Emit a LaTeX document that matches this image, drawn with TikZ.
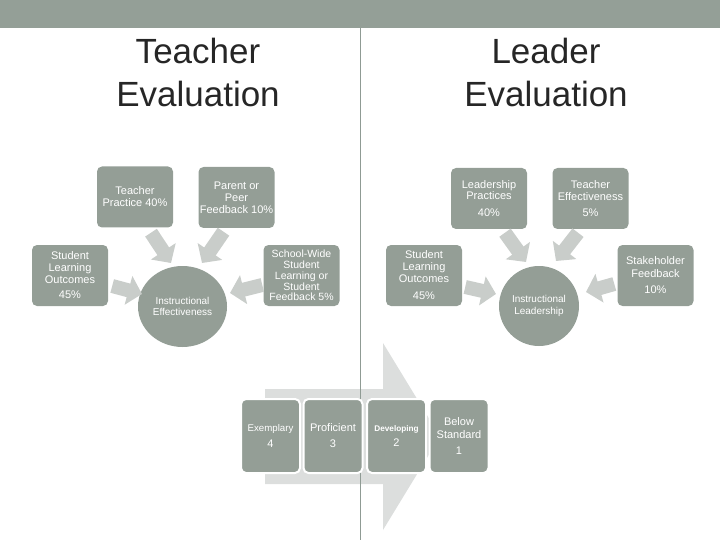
\documentclass[tikz,border=0pt]{standalone}
\usepackage{fontspec}
\setmainfont{Liberation Sans}
\usetikzlibrary{arrows.meta,shapes.geometric,calc}
\definecolor{bargray}{HTML}{949F97}
\definecolor{boxgray}{HTML}{949E96}
\definecolor{arrgray}{HTML}{C9CDCA}
\definecolor{bigarr}{HTML}{DCDEDD}
\definecolor{linegray}{HTML}{8F9B94}
\definecolor{titlecol}{HTML}{262626}
\begin{document}
\begin{tikzpicture}[x=1pt,y=-1pt,
  box/.style={rounded corners=5pt, fill=boxgray, text=white, minimum width=76pt,
    minimum height=61pt, inner sep=0pt, align=center, font=\fontsize{11}{12}\selectfont},
  lvl/.style={box, draw=white, line width=2pt, minimum width=59pt, minimum height=74pt,
    font=\fontsize{11}{16}\selectfont},
  hub/.style={fill=boxgray, text=white, align=center, inner sep=0pt},
  title/.style={text=titlecol, align=center, font=\fontsize{35}{43}\selectfont},
  fat/.style={arrgray, line width=14pt, -{Triangle[length=14pt,width=29pt]}},
]
\useasboundingbox (0,0) rectangle (720,540);
% top bar
\fill[bargray] (0,0) rectangle (720,28);
% big background arrow
\fill[bigarr] (265,389) -- (383,389) -- (383,343) -- (440,436.5) -- (383,530)
  -- (383,484) -- (265,484) -- cycle;
% divider
\draw[linegray, line width=1pt] (360.5,28) -- (360.5,540);
% titles
\node[title] (tt) at (198,72) {Teacher\\Evaluation};
\node[title] (lt) at (546,72) {Leader\\Evaluation};
% teacher cluster
\node[box] (tp) at (135,197) {Teacher\\Practice 40\%};
\node[box] (pp) at (236.5,197.5) {Parent or\\Peer\\Feedback 10\%};
\node[box] (sl) at (70,275.5) {Student\\Learning\\Outcomes\\[3pt]45\%};
\node[box, font=\fontsize{10.5}{10.8}\selectfont] (sw) at (301.5,275.5)
  {School-Wide\\Student\\Learning or\\Student\\Feedback 5\%};
\node[hub, ellipse, minimum width=89pt, minimum height=81pt,
  font=\fontsize{10}{10.5}\selectfont] (ie) at (182.5,306.5) {Instructional\\Effectiveness};
% leader cluster
\node[box, font=\fontsize{11}{11.5}\selectfont] (lp) at (489,198.5) {Leadership\\Practices\\[5pt]40\%};
\node[box] (te) at (590.5,198.5) {Teacher\\Effectiveness\\[4pt]5\%};
\node[box] (sr) at (424,275.5) {Student\\Learning\\Outcomes\\[5pt]45\%};
\node[box, font=\fontsize{11}{13}\selectfont] (sf) at (655.5,275.5) {Stakeholder\\Feedback\\[3pt]10\%};
\node[hub, circle, minimum size=80pt, font=\fontsize{10}{12.5}\selectfont]
  (il) at (539,306) {Instructional\\Leadership};
% arrow end points
\coordinate (a1s) at ($(tp.south)+(16,5)$);
\coordinate (a1t) at (171,263);
\coordinate (a2s) at ($(pp.south)+(-13,3.5)$);
\coordinate (a2t) at (202,263);
\coordinate (a3s) at ($(sl.east)+(4,10.5)$);
\coordinate (a3t) at (142,294);
\coordinate (a4s) at ($(sw.west)+(-1,9.5)$);
\coordinate (a4t) at (230,293);
\coordinate (b1s) at ($(lp.south)+(16,3.5)$);
\coordinate (b1t) at (526,262);
\coordinate (b2s) at ($(te.south)+(-12.5,3.5)$);
\coordinate (b2t) at (556,261);
\coordinate (b3s) at ($(sr.east)+(3,11.5)$);
\coordinate (b3t) at (496,294);
\coordinate (b4s) at ($(sf.west)+(-3,8.5)$);
\coordinate (b4t) at (586,292);
\draw[fat] (a1s) -- (a1t);
\draw[fat] (a2s) -- (a2t);
\draw[fat] (a3s) -- (a3t);
\draw[fat] (a4s) -- (a4t);
\draw[fat] (b1s) -- (b1t);
\draw[fat] (b2s) -- (b2t);
\draw[fat] (b3s) -- (b3t);
\draw[fat] (b4s) -- (b4t);
% rating levels
\node[lvl] (ex) at (270.5,436) {{\fontsize{9.7}{16}\selectfont Exemplary}\\4};
\node[lvl] (pr) at (333,436) {Proficient\\3};
\node[lvl, font=\fontsize{11}{15}\selectfont] (dv) at (396.5,436)
  {{\fontsize{8.2}{15}\selectfont\bfseries Developing}\\2};
\node[lvl, font=\fontsize{11}{13}\selectfont] (bs) at (459,436) {Below\\Standard\\[3pt]1};
\end{tikzpicture}
\end{document}
